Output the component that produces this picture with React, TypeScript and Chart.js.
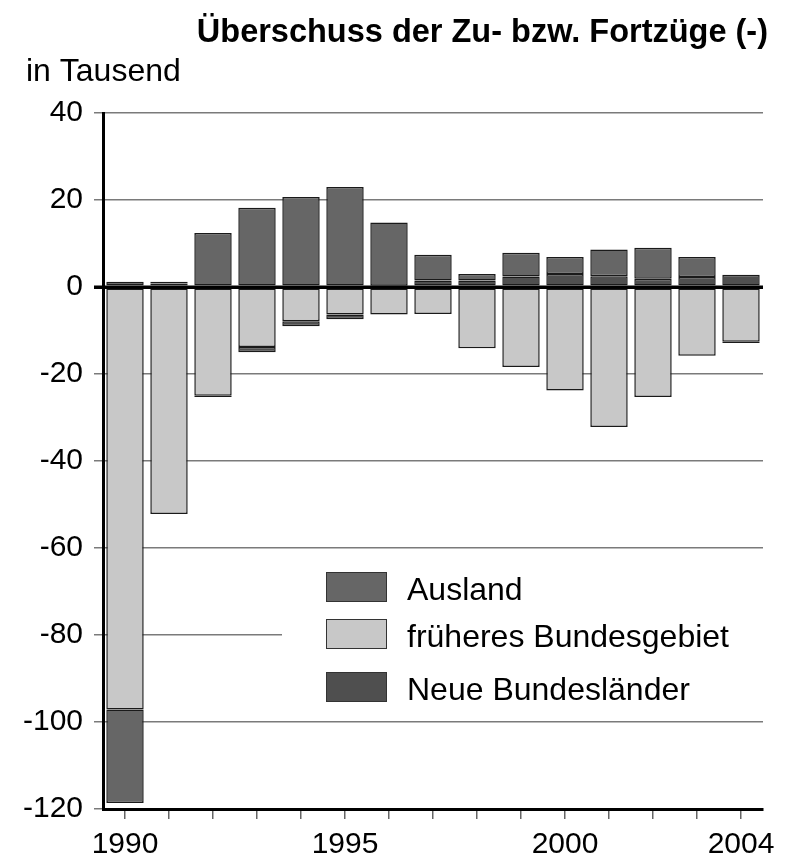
import React, { useEffect, useRef } from "react";
import { Chart, registerables } from "chart.js";

Chart.register(...registerables);

const years = ["1990", "1991", "1992", "1993", "1994", "1995", "1996", "1997", "1998", "1999", "2000", "2001", "2002", "2003", "2004"];
const labeledYears = ["1990", "1995", "2000", "2004"];

// values in thousands
const frueheresBundesgebiet = [-97.1, -52.2, -25.0, -13.8, -7.9, -6.3, -6.3, -6.2, -14.1, -18.4, -23.8, -32.2, -25.3, -15.8, -12.6];
const neueBundeslaender = [1.2, 0.8, -0.3, -1.2, -1.1, -1.1, 0.3, 1.5, 1.5, 2.4, 3.0, 2.5, 1.9, 2.3, 2.8];
const ausland = [-21.5, 0.4, 12.4, 18.2, 20.7, 23.0, 14.5, 5.9, 1.5, 5.5, 3.9, 6.1, 7.1, 4.6, -0.3];

const yMin = -120;
const yMax = 40;
const yStep = 20;

const titleText = "Überschuss der Zu- bzw. Fortzüge (-)";
const unitText = "in Tausend";

const legendItems = [
  { label: "Ausland", color: "#666666" },
  { label: "früheres Bundesgebiet", color: "#c8c8c8" },
  { label: "Neue Bundesländer", color: "#4f4f4f" },
];

const FONT = "'Liberation Sans', Arial, Helvetica, sans-serif";

const decorPlugin = {
  id: "decor",
  beforeDatasetsDraw(chart: any) {
    const ctx = chart.ctx;
    ctx.save();
    // white legend panel covering gridlines
    ctx.fillStyle = "#ffffff";
    ctx.fillRect(282, 558, chart.chartArea.right - 282 + 2, 154);
    const rows = [572, 619, 672];
    legendItems.forEach((it, i) => {
      const y = rows[i];
      ctx.fillStyle = it.color;
      ctx.fillRect(326, y, 61, 30);
      ctx.strokeStyle = "#333333";
      ctx.lineWidth = 1;
      ctx.strokeRect(326.5, y + 0.5, 60, 29);
      ctx.fillStyle = "#000000";
      ctx.font = `32px ${FONT}`;
      ctx.textBaseline = "alphabetic";
      ctx.textAlign = "left";
      ctx.fillText(it.label, 407, y + 28);
    });
    ctx.restore();
  },
  afterDatasetsDraw(chart: any) {
    const ctx = chart.ctx;
    const y0 = chart.scales.y.getPixelForValue(0);
    ctx.save();
    ctx.strokeStyle = "#000000";
    ctx.lineWidth = 3;
    ctx.beginPath();
    ctx.moveTo(chart.chartArea.left - 9, y0);
    ctx.lineTo(chart.chartArea.right, y0);
    ctx.stroke();
    ctx.restore();
  },
  afterDraw(chart: any) {
    const ctx = chart.ctx;
    ctx.save();
    ctx.fillStyle = "#000000";
    ctx.textBaseline = "alphabetic";
    ctx.font = `bold 32.5px ${FONT}`;
    ctx.textAlign = "right";
    ctx.fillText(titleText, 768, 42);
    ctx.font = `32px ${FONT}`;
    ctx.textAlign = "left";
    ctx.fillText(unitText, 26, 81);
    ctx.restore();
  },
};

export default function App() {
  const canvasRef = useRef<HTMLCanvasElement | null>(null);

  useEffect(() => {
    if (!canvasRef.current) return;
    const border = "#1a1a1a";
    const chart = new Chart(canvasRef.current, {
      type: "bar",
      data: {
        labels: years,
        datasets: [
          {
            label: "früheres Bundesgebiet",
            data: frueheresBundesgebiet,
            backgroundColor: "#c8c8c8",
            borderColor: border,
            borderWidth: 1.5,
            borderSkipped: false,
          },
          {
            label: "Neue Bundesländer",
            data: neueBundeslaender,
            backgroundColor: "#4f4f4f",
            borderColor: border,
            borderWidth: 1.5,
            borderSkipped: false,
          },
          {
            label: "Ausland",
            data: ausland,
            backgroundColor: "#666666",
            borderColor: border,
            borderWidth: 1.5,
            borderSkipped: false,
          },
        ],
      },
      options: {
        responsive: false,
        animation: false,
        devicePixelRatio: 1,
        layout: { padding: { top: 113, right: 27, left: 0, bottom: 0 } },
        plugins: {
          legend: { display: false },
          tooltip: { enabled: false },
          title: { display: false },
        },
        datasets: {
          bar: { categoryPercentage: 1, barPercentage: 0.85 },
        },
        scales: {
          x: {
            stacked: true,
            offset: true,
            afterFit: (scale: any) => {
              scale.height = 55;
            },
            grid: {
              offset: false,
              drawOnChartArea: false,
              drawTicks: true,
              tickLength: 10,
              color: "#666666",
              lineWidth: 1.5,
            },
            border: { display: true, color: "#000000", width: 3 },
            ticks: {
              autoSkip: false,
              maxRotation: 0,
              padding: 8,
              color: "#000000",
              font: { family: FONT, size: 30 },
              callback: (_v: any, i: number) => (labeledYears.includes(years[i]) ? years[i] : ""),
            },
          },
          y: {
            stacked: true,
            min: yMin,
            max: yMax,
            afterFit: (scale: any) => {
              scale.width = 103;
            },
            grid: {
              color: (c: any) => (c.tick && c.tick.value === 0 ? "#000000" : "#7a7a7a"),
              lineWidth: (c: any) => (c.tick && c.tick.value === 0 ? 3 : 1.5),
              tickLength: 9,
            },
            border: { display: true, color: "#000000", width: 3 },
            ticks: {
              stepSize: yStep,
              padding: 11,
              color: "#000000",
              font: { family: FONT, size: 30 },
            },
          },
        },
      },
      plugins: [decorPlugin],
    });
    return () => chart.destroy();
  }, []);

  return (
    <div style={{ position: "absolute", left: 0, top: 0, width: 790, height: 864, background: "#ffffff" }}>
      <canvas ref={canvasRef} width={790} height={864} />
    </div>
  );
}
